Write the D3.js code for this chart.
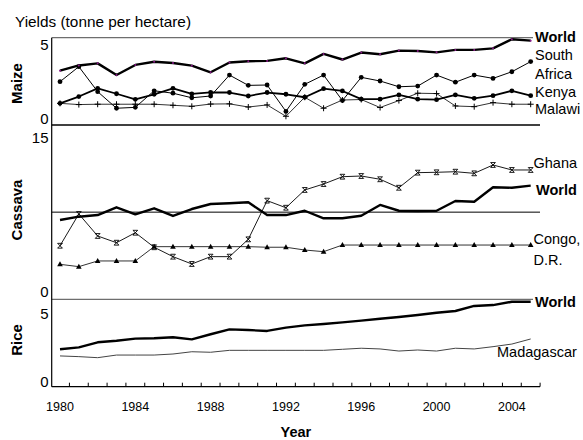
<!DOCTYPE html>
<html>
<head>
<meta charset="utf-8">
<script src="https://cdn.jsdelivr.net/npm/d3@7/dist/d3.min.js"></script>
<style>
  body { margin: 0; background: #fff; }
  svg { display: block; }
</style>
</head>
<body>
<div id="chart"></div>
<script>
// categories
var years = [1980, 1981, 1982, 1983, 1984, 1985, 1986, 1987, 1988, 1989, 1990, 1991, 1992,
  1993, 1994, 1995, 1996, 1997, 1998, 1999, 2000, 2001, 2002, 2003, 2004, 2005];
var yearLabels = [1980, 1984, 1988, 1992, 1996, 2000, 2004];

// maize (t/ha)
var maizeWorld = [3.11, 3.41, 3.53, 2.86, 3.44, 3.62, 3.55, 3.40, 3.02, 3.58, 3.65, 3.67, 3.82,
  3.53, 4.07, 3.75, 4.15, 4.05, 4.26, 4.24, 4.16, 4.30, 4.30, 4.39, 4.91, 4.83];
var maizeSouthAfrica = [2.48, 3.34, 1.91, 0.96, 1.01, 1.96, 1.82, 1.56, 1.66, 2.86, 2.27, 2.29, 0.78,
  2.33, 2.86, 1.40, 2.73, 2.52, 2.19, 2.23, 2.86, 2.45, 2.86, 2.67, 3.05, 3.63];
var maizeKenya = [1.24, 1.63, 2.10, 1.79, 1.47, 1.76, 2.10, 1.78, 1.87, 1.86, 1.66, 1.86, 1.76,
  1.59, 2.08, 1.95, 1.48, 1.48, 1.72, 1.48, 1.45, 1.72, 1.53, 1.68, 1.96, 1.68];
var maizeMalawi = [1.24, 1.17, 1.19, 1.19, 1.19, 1.19, 1.13, 1.07, 1.20, 1.21, 1.03, 1.15, 0.50,
  1.59, 0.96, 1.43, 1.46, 1.00, 1.40, 1.82, 1.80, 1.09, 1.05, 1.28, 1.19, 1.19];

// cassava (t/ha)
var cassavaWorld = [6.82, 7.11, 7.25, 7.92, 7.31, 7.83, 7.17, 7.77, 8.20, 8.26, 8.35, 7.25, 7.25,
  7.62, 6.97, 6.97, 7.19, 8.12, 7.62, 7.60, 7.62, 8.46, 8.40, 9.64, 9.60, 9.78];
var cassavaGhana = [4.61, 7.34, 5.45, 4.87, 5.73, 4.48, 3.67, 3.04, 3.67, 3.67, 5.16, 8.49, 7.88,
  9.41, 9.92, 10.55, 10.61, 10.33, 9.60, 10.90, 10.93, 10.98, 10.84, 11.56, 11.13, 11.13];
var cassavaCongo = [3.01, 2.81, 3.30, 3.30, 3.30, 4.53, 4.53, 4.53, 4.53, 4.53, 4.53, 4.48, 4.48,
  4.24, 4.10, 4.67, 4.67, 4.67, 4.67, 4.67, 4.67, 4.67, 4.67, 4.67, 4.67, 4.67];

// rice (t/ha)
var riceWorld = [2.14, 2.25, 2.54, 2.63, 2.75, 2.77, 2.83, 2.71, 3.00, 3.28, 3.24, 3.19, 3.38,
  3.51, 3.59, 3.68, 3.78, 3.89, 3.99, 4.10, 4.23, 4.33, 4.62, 4.67, 4.86, 4.86];
var riceMadagascar = [1.76, 1.72, 1.66, 1.81, 1.81, 1.81, 1.87, 2.00, 1.97, 2.08, 2.08, 2.08, 2.08,
  2.08, 2.08, 2.14, 2.20, 2.16, 2.04, 2.10, 2.04, 2.20, 2.16, 2.29, 2.44, 2.73];

var W = 583, H = 440;
var axisLeft = 51.7, plotRight = 540;
var FONT = '"Liberation Sans", Arimo, Arial, Helvetica, sans-serif';

var svg = d3.select('#chart').append('svg')
  .attr('width', W)
  .attr('height', H)
  .attr('font-family', FONT);

//--- X SCALE (categories)
var x = d3.scaleBand()
  .domain(years)
  .range([50.6, 540.1]);
var bw = x.bandwidth();
function cx(d, i) { return x(years[i]) + bw / 2; }

//--- PANEL SCALES
var yMaize = d3.scaleLinear().domain([0, 5]).range([125, 37.7]);
var yCassava = d3.scaleLinear().domain([0, 15]).range([299.3, 125]);
var yRice = d3.scaleLinear().domain([0, 5]).range([386.7, 299.3]);

//--- FRAME LINES
function hline(y, x2, color, w) {
  svg.append('line')
    .attr('x1', axisLeft).attr('x2', x2)
    .attr('y1', y).attr('y2', y)
    .attr('stroke', color).attr('stroke-width', w);
}
hline(yMaize(5), 533, '#6e6e6e', 1.2);
hline(yMaize(0), plotRight, '#000', 1.4);
hline(yCassava(7.5), plotRight, '#000', 1);
hline(yCassava(0), 533, '#6e6e6e', 1.2);

//--- MARKERS
var markers = {
  dot: function(g) { g.append('circle').attr('r', 2.4).attr('fill', '#000'); },
  pdot: function(g) { g.append('circle').attr('r', 1).attr('fill', '#8a1a8a'); },
  plus: function(g) {
    g.append('path').attr('d', 'M-3,0H3M0,-3V3')
      .attr('stroke', '#000').attr('stroke-width', 1).attr('fill', 'none');
  },
  tri: function(g) {
    g.append('path').attr('d', 'M0,-3L2.8,2L-2.8,2Z').attr('fill', '#000');
  },
  cross: function(g) {
    g.append('path').attr('d', 'M-2.4,-2.4L2.4,2.4M-2.4,2.4L2.4,-2.4M-2.4,-2.4H2.4M-2.4,2.4H2.4')
      .attr('stroke', '#000').attr('stroke-width', 0.9).attr('fill', 'none');
  }
};

function series(values, yScale, stroke, width, marker) {
  var line = d3.line()
    .x(cx)
    .y(function(d) { return yScale(d); });
  svg.append('path')
    .datum(values)
    .attr('d', line)
    .attr('fill', 'none')
    .attr('stroke', stroke)
    .attr('stroke-width', width)
    .attr('stroke-linejoin', 'round');
  if (marker) {
    svg.append('g').selectAll('g')
      .data(values)
      .enter().append('g')
      .attr('transform', function(d, i) { return 'translate(' + cx(d, i) + ',' + yScale(d) + ')'; })
      .each(function() { markers[marker](d3.select(this)); });
  }
}

// maize
series(maizeMalawi, yMaize, '#333', 1, 'plus');
series(maizeSouthAfrica, yMaize, '#000', 1, 'dot');
series(maizeKenya, yMaize, '#000', 1.8, 'dot');
series(maizeWorld, yMaize, '#000', 2.4, 'pdot');

// cassava
series(cassavaCongo, yCassava, '#333', 1, 'tri');
series(cassavaGhana, yCassava, '#000', 0.9, 'cross');
series(cassavaWorld, yCassava, '#000', 2.4, null);

// rice
series(riceMadagascar, yRice, '#444', 1, null);
series(riceWorld, yRice, '#000', 2.4, null);

//--- Y AXIS LINE
svg.append('line')
  .attr('x1', axisLeft).attr('x2', axisLeft)
  .attr('y1', yMaize(5)).attr('y2', yRice(0))
  .attr('stroke', '#000').attr('stroke-width', 1.2);

//--- X AXIS
var axisX = svg.append('g')
  .attr('transform', 'translate(0,' + yRice(0) + ')')
  .call(d3.axisBottom(x).tickValues(yearLabels).tickSize(0).tickPadding(15));
axisX.select('.domain').remove();
axisX.selectAll('text')
  .attr('font-size', '12.5px')
  .attr('font-family', FONT)
  .attr('fill', '#000');

svg.append('line')
  .attr('x1', axisLeft).attr('x2', plotRight)
  .attr('y1', yRice(0)).attr('y2', yRice(0))
  .attr('stroke', '#000').attr('stroke-width', 1.2);

// tick marks at category boundaries, pointing up
svg.append('g').selectAll('line')
  .data(years)
  .enter().append('line')
  .attr('x1', function(d) { return x(d) + bw; })
  .attr('x2', function(d) { return x(d) + bw; })
  .attr('y1', yRice(0))
  .attr('y2', yRice(0) - 4)
  .attr('stroke', '#000')
  .attr('stroke-width', 1);

//--- Y TICK LABELS
function ylabel(txt, y) {
  svg.append('text')
    .attr('x', 48.5).attr('y', y)
    .attr('text-anchor', 'end')
    .attr('font-size', '15px')
    .text(txt);
}
ylabel('5', yMaize(5) + 12.3);
ylabel('0', yMaize(0) - 1);
ylabel('15', yCassava(15) + 17.7);
ylabel('0', yCassava(0) - 2.6);
ylabel('5', yRice(5) + 20);
ylabel('0', yRice(0));

//--- PANEL TITLES
function ptitle(txt, y) {
  svg.append('text')
    .attr('transform', 'translate(22,' + y + ') rotate(-90)')
    .attr('text-anchor', 'middle')
    .attr('font-size', '15px')
    .attr('font-weight', 'bold')
    .text(txt);
}
ptitle('Maize', 83.5);
ptitle('Cassava', 210);
ptitle('Rice', 340);

//--- SERIES LABELS
function slabel(txt, xx, y, bold) {
  svg.append('text')
    .attr('x', xx).attr('y', y)
    .attr('font-size', '14.5px')
    .attr('font-weight', bold ? 'bold' : 'normal')
    .text(txt);
}
slabel('World', 535, 42, true);
slabel('South', 535, 60);
slabel('Africa', 535, 78.5);
slabel('Kenya', 535, 96.5);
slabel('Malawi', 535, 113.5);
slabel('Ghana', 533.5, 168.3);
slabel('World', 536, 195, true);
slabel('Congo,', 533.5, 243.8);
slabel('D.R.', 533.5, 265);
slabel('World', 535, 306.7, true);
slabel('Madagascar', 497, 356.7);

//--- TITLES
svg.append('text')
  .attr('x', 15).attr('y', 27)
  .attr('font-size', '14.5px')
  .attr('textLength', 176)
  .attr('lengthAdjust', 'spacingAndGlyphs')
  .text('Yields (tonne per hectare)');

svg.append('text')
  .attr('x', (axisLeft + plotRight) / 2).attr('y', 437)
  .attr('text-anchor', 'middle')
  .attr('font-size', '14.5px')
  .attr('font-weight', 'bold')
  .text('Year');
</script>
</body>
</html>
